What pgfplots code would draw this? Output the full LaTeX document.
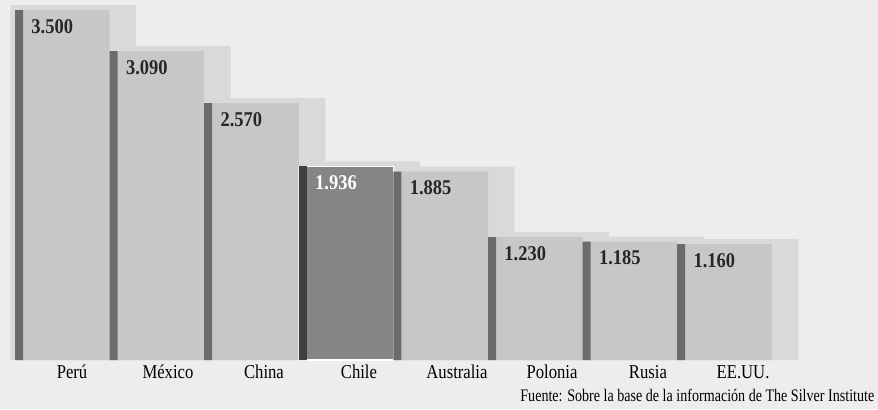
\documentclass[border=0pt]{standalone}
\usepackage{fontspec}
\setmainfont{Liberation Serif}
\newfontfamily\valfam[FakeStretch=0.88]{Liberation Serif}
\newfontfamily\catfam[FakeStretch=0.85]{Liberation Serif}
\newfontfamily\srcfam[FakeStretch=0.80]{Liberation Serif}
\usepackage{pgfplots}
\usepackage{pgfplotstable}
\pgfplotsset{compat=1.18}

\definecolor{fondo}{gray}{0.93}
\definecolor{sombra}{gray}{0.85}
\definecolor{barra}{gray}{0.78}
\definecolor{borde}{gray}{0.42}
\definecolor{chile}{gray}{0.52}
\definecolor{bordechile}{gray}{0.25}

% produccion de plata (toneladas)
\pgfplotstableread{
idx val
0 3500
1 3090
2 2570
3 1936
4 1885
5 1230
6 1185
7 1160
}\datos

\begin{document}
\begin{tikzpicture}
\useasboundingbox (0,-24.5pt) rectangle (439pt,180pt);
\fill[fondo] (0,-24.5pt) rectangle (439pt,180pt);
\begin{axis}[
  width=439pt, height=180pt, scale only axis,
  xmin=-0.1586, xmax=9.1226, ymin=0, ymax=3600,
  axis line style={draw=none}, tick style={draw=none},
  major tick length=0pt, ytick=\empty,
  xtick={0.603,1.617,2.632,3.636,4.672,5.677,6.691,7.696},
  xticklabels={Perú,México,China,Chile,Australia,Polonia,Rusia,EE.UU.},
  xticklabel style={anchor=base, yshift=-9pt, inner sep=0pt,
    font=\catfam\fontsize{9.8pt}{10pt}\selectfont},
  clip=false,
  nodes near coords style={anchor=north west, inner sep=0pt,
    xshift=6pt, yshift=-4.5pt, font=\valfam\bfseries\fontsize{10.5pt}{11pt}\selectfont},
]
% sombra
\addplot[ybar, bar width=1.33, fill=sombra, draw=none]
  table[x expr=\thisrow{idx}+0.615, y expr=\thisrow{val}+50] {\datos};
% barras
\addplot[ybar, bar width=1, fill=barra, draw=none]
  table[x expr=\thisrow{idx}+0.5, y=val] {\datos};
% Chile destacado
\addplot[ybar, bar width=1, fill=chile, draw=white, line width=0.8pt,
  skip coords between index={0}{3}, skip coords between index={4}{8}]
  table[x expr=\thisrow{idx}+0.5, y=val] {\datos};
% borde izquierdo
\addplot[ybar, bar width=0.085, fill=borde, draw=none]
  table[x expr=\thisrow{idx}+0.0425, y=val] {\datos};
\addplot[ybar, bar width=0.085, fill=bordechile, draw=none,
  skip coords between index={0}{3}, skip coords between index={4}{8}]
  table[x expr=\thisrow{idx}+0.0425, y=val] {\datos};
% etiquetas
\addplot[draw=none, mark=none, skip coords between index={3}{4},
  nodes near coords={\pgfmathprintnumber[assume math mode=true, fixed, 1000 sep={.}]{\pgfplotspointmeta}},
  nodes near coords style={text=black!85}]
  table[x expr=\thisrow{idx}+0.0425, y=val] {\datos};
\addplot[draw=none, mark=none,
  skip coords between index={0}{3}, skip coords between index={4}{8},
  nodes near coords={\pgfmathprintnumber[assume math mode=true, fixed, 1000 sep={.}]{\pgfplotspointmeta}},
  nodes near coords style={text=white}]
  table[x expr=\thisrow{idx}+0.0425, y=val] {\datos};
\end{axis}
\node[anchor=base west, inner sep=0pt, font=\srcfam\fontsize{8.8pt}{9pt}\selectfont]
  at (260pt,-20.5pt) {Fuente: Sobre la base de la información de The Silver Institute};
\end{tikzpicture}
\end{document}
